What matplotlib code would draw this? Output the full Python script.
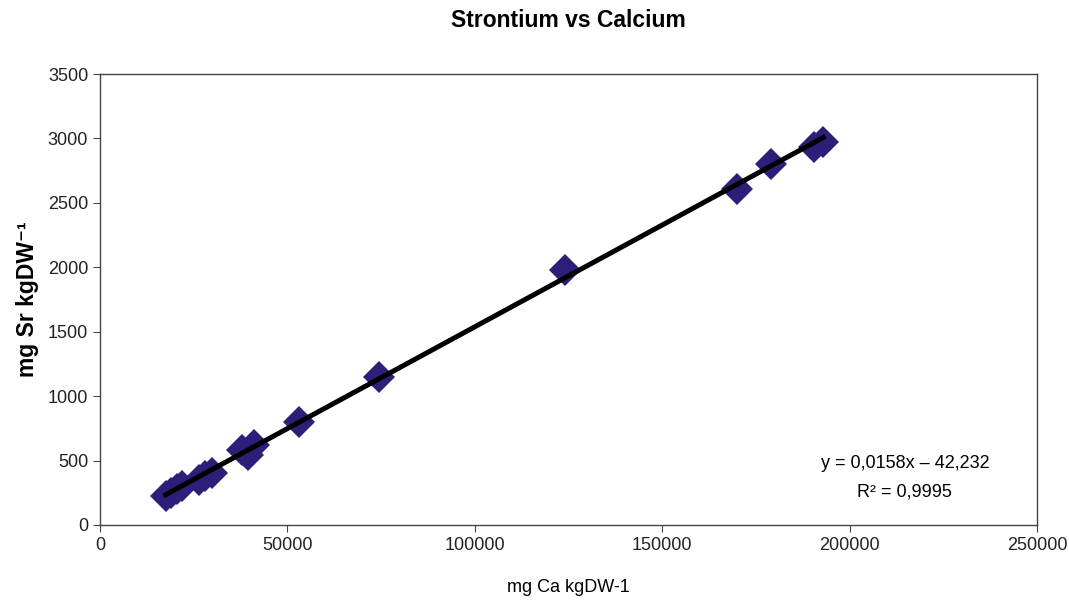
import numpy as np
import matplotlib.pyplot as plt

plt.rcParams['font.family'] = ['Liberation Sans', 'DejaVu Sans']

# data
ca = [17500, 19000, 20500, 22000, 26500, 28000, 30000, 38000, 39500, 41000,
      53000, 74500, 124000, 170000, 179000, 190500, 193000]
sr = [225, 250, 280, 300, 350, 380, 400, 580, 540, 620,
      800, 1150, 1980, 2610, 2800, 2930, 2975]
slope = 0.0158
intercept = -42.232
r2_text = '0,9995'

fig = plt.figure(figsize=(10.69, 6.02), dpi=100)
ax = fig.add_axes([0.0935, 0.128, 0.8765, 0.749])

ax.plot(ca, sr, linestyle='none', marker='D', markersize=16,
        color='#2b1f7a', markeredgewidth=0, zorder=2)

# linear trendline over the data range
xl = np.array([min(ca), max(ca)])
ax.plot(xl, slope * xl + intercept, color='black', linewidth=3.6, zorder=3)

ax.set_xlim(0, 250000)
ax.set_ylim(0, 3500)
ax.set_xticks(np.arange(0, 250001, 50000))
ax.set_yticks(np.arange(0, 3501, 500))
ax.tick_params(labelsize=13, length=5, color='#444444', colors='#222222')
for s in ax.spines.values():
    s.set_color('#444444')
    s.set_linewidth(1)

ax.set_title('Strontium vs Calcium', fontsize=16.5, fontweight='bold', pad=34)
ax.set_xlabel('mg Ca kgDW-1', fontsize=13, labelpad=18)
ax.set_ylabel('mg Sr kgDW\u207b\u00b9', fontsize=16.5, fontweight='bold', labelpad=6)

ax.text(0.859, 0.137, 'y = 0,0158x \u2013 42,232', transform=ax.transAxes,
        ha='center', va='center', fontsize=13)
ax.text(0.859, 0.073, 'R\u00b2 = ' + r2_text, transform=ax.transAxes,
        ha='center', va='center', fontsize=13)

fig.savefig('out.png', dpi=100)
